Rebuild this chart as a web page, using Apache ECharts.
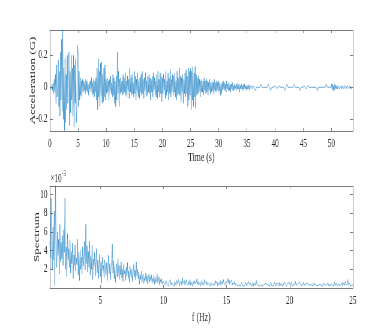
<!DOCTYPE html>
<html lang="en">
<head>
<meta charset="UTF-8">
<style>
  html, body { margin: 0; height: 100%; overflow: hidden; background: #fff; }
  /* figure looks squeezed sideways, so draw wide and squash */
  #chart { width: 650px; height: 332px; transform: scaleX(0.6); transform-origin: 0 0; }
</style>
</head>
<body>
<div id="chart"></div>
<script src="https://cdn.jsdelivr.net/npm/echarts@6.0.0/dist/echarts.min.js"></script>
<script>
// acceleration record, one sample every 0.1 s, in units of 0.01 G
var DT = 0.1;
var accelCentiG = [
  0,0,1,-1,2,-2,3,-4,5,-3,
  8,-10,14,-6,-2,17,-12,10,-18,22,
  -8,30,-15,36,-20,12,-27,18,-22,8,
  -14,20,-10,15,22,-24,10,-16,20,-8,
  12,-18,20,-25,14,-10,18,-22,-15,26,
  24,-12,10,-8,6,-5,4,-6,5,-3,
  4,-2,3,-4,5,-2,4,-3,2,-5,
  3,-1,4,-3,6,-5,3,-4,5,-6,
  4,-3,6,-8,12,-14,18,-6,10,-12,
  15,-5,16,-10,8,-9,12,-6,14,-8,
  5,-4,6,-3,4,-8,5,-2,7,-4,
  3,-6,8,-5,6,-10,4,-12,7,-8,
  22,-4,10,-12,5,-4,6,-3,4,-5,
  8,-4,6,-3,9,-5,4,-6,7,-2,
  5,-7,12,-3,6,-5,8,-4,3,-6,
  10,-4,7,-8,5,-3,9,-6,4,-7,
  6,-3,8,-5,10,-4,5,-7,6,-2,
  9,-6,4,-5,7,-3,8,-4,6,-8,
  5,-3,7,-6,9,-2,6,-5,4,-6,
  8,-7,10,-3,5,-6,9,-4,7,-9,
  6,-4,8,-2,5,-7,10,-5,4,-3,
  9,-8,6,-4,11,-6,5,-3,8,-5,
  7,-3,9,-6,4,-8,10,-5,6,-4,
  12,-5,7,-9,6,-3,8,-10,5,-4,
  9,-6,11,-4,7,-12,12,-8,10,-5,
  12,-14,10,-8,13,-12,9,-6,13,-13,
  8,-5,6,-4,7,-3,5,-6,4,-3,
  5,-3,4,-5,6,-2,4,-4,5,-3,
  4,-5,3,-2,5,-4,3,-3,4,-2,
  3,-4,5,-2,3,-3,4,-2,3,-3,
  4,-2,3,-5,2,-4,3,-2,4,-1,
  3,-2,2,-3,4,-1,2,-2,3,-2,
  2,-3,2,-1,3,-2,1,-2,2,-1,
  1,-2,2,-1,3,-1,2,-3,1,-1,
  2,-1,1,-2,2,-1,2,-1,1,-2,
  1,-1,2,-1,1,-2,1,0,2,-1,
  1,2,1,0,-1,-2,-1,0,1,1,
  0,-1,-1,0,1,2,1,0,-1,-1,
  0,1,1,0,-1,-1,0,1,2,1,
  0,-1,-2,-1,0,1,1,0,-1,0,
  1,1,0,-1,-1,0,1,2,1,0,
  -1,-1,0,1,1,0,-1,-2,-1,0,
  1,2,1,0,-1,-1,0,1,1,0,
  -1,-1,0,1,2,1,0,-1,-1,0,
  1,1,0,-1,-2,-1,0,1,1,0,
  -1,0,1,1,0,-1,-1,0,1,2,
  1,0,-1,-1,0,1,1,0,-1,-1,
  0,1,1,0,-1,-2,-1,0,1,1,
  0,-1,-1,0,1,1,0,-1,-1,0,
  1,2,1,0,-1,-1,0,1,1,0,
  2,-1,2,-2,1,-2,2,-1,1,-1,
  1,-1,1,0,1,-1,0,1,-1,0,
  1,0,-1,0,1,0,-1,0,1,0,
  0,-1,0,1,0,-1,0,0,0
];

// amplitude spectrum, from 1 Hz every 0.05 Hz, in units of 1e-3
var F0 = 1, DF = 0.05;
var spectrumE3 = [
  5.0,3.2,9.6,4.1,2.0,6.5,3.0,8.2,0.3,11.0,4.5,2.2,6.0,3.5,5.2,1.5,6.8,2.8,4.9,3.1,
  5.6,2.4,6.2,3.8,9.6,2.0,4.4,1.2,5.8,3.0,4.2,2.2,5.1,1.6,3.9,2.6,4.8,1.0,3.5,2.4,
  4.6,1.8,3.2,2.5,5.2,1.4,3.8,0.8,4.1,2.0,3.3,1.5,4.4,2.3,3.0,5.0,1.9,6.8,2.6,4.5,
  1.7,3.9,2.2,5.0,1.4,3.4,2.0,4.6,0.9,3.1,2.4,3.8,1.3,2.7,4.2,1.6,3.0,1.0,2.5,3.6,
  1.2,2.8,0.5,3.3,1.9,2.4,1.1,3.0,2.0,1.4,2.7,0.8,2.2,3.5,1.5,2.6,0.9,2.1,3.0,4.7,
  1.6,2.9,1.0,2.3,0.6,1.9,2.6,1.2,3.1,1.7,0.9,2.4,1.4,2.8,1.1,2.0,0.7,2.5,1.5,1.9,
  0.8,2.2,1.3,2.7,1.0,1.8,0.6,2.4,1.5,1.1,2.0,0.7,1.6,2.5,1.2,1.9,0.9,2.8,1.3,2.0,
  1.0,1.7,0.4,1.4,0.9,1.8,0.6,1.2,1.5,0.5,1.1,0.8,1.6,0.7,1.3,0.4,1.0,1.5,0.6,1.2,
  0.8,1.4,0.5,1.0,0.7,1.3,0.4,1.1,0.6,0.9,1.5,0.5,0.8,1.2,0.3,0.9,0.6,1.0,0.4,0.7,
  0.9,0.5,0.7,0.3,0.8,1.0,0.4,0.6,0.2,0.7,0.5,0.9,0.3,0.6,0.8,0.4,0.5,0.2,0.7,0.6,
  0.3,0.8,0.5,0.4,0.9,0.2,0.6,0.5,0.7,0.3,1.1,0.5,0.4,0.8,0.3,0.6,0.9,0.4,0.5,0.3,
  0.7,0.4,0.9,0.3,0.6,0.5,0.2,0.7,0.4,0.8,0.5,0.3,0.6,1.0,0.4,0.7,0.3,0.5,0.6,0.2,
  0.5,0.8,0.4,0.6,0.3,0.9,0.5,0.4,0.7,0.3,0.6,0.8,0.4,0.5,0.2,0.6,0.7,0.3,0.5,0.4,
  0.6,0.3,0.8,0.5,0.4,0.7,0.2,0.5,0.6,0.4,0.8,0.3,0.5,0.7,0.4,0.9,0.5,0.6,0.3,0.7,
  0.8,0.5,1.0,0.6,0.9,0.4,0.7,0.5,0.8,0.3,0.6,0.5,0.4,0.7,0.3,0.5,0.4,0.6,0.2,0.4,
  0.3,0.5,0.2,0.4,0.6,0.3,0.5,0.2,0.4,0.3,0.6,0.4,0.2,0.5,0.3,0.7,0.4,0.3,0.5,0.2,
  0.4,0.3,0.6,0.2,0.5,0.4,0.3,0.8,0.4,0.6,0.3,0.5,0.2,0.4,0.3,0.5,0.2,0.4,0.3,0.2,
  0.4,0.2,0.5,0.3,0.4,0.2,0.3,0.5,0.2,0.4,0.6,0.3,0.5,0.2,0.4,0.3,0.6,0.4,0.2,0.5,
  0.3,0.5,0.4,0.2,0.6,0.3,0.4,0.5,0.2,0.4,0.3,0.6,0.4,0.5,0.3,0.2,0.4,0.5,0.3,0.6,
  0.4,0.3,0.5,0.6,0.2,0.4,0.3,0.5,0.4,0.7,0.3,0.5,0.4,0.2,0.5,0.3,0.6,0.4,0.3,0.5,
  0.2,0.4,0.6,0.3,0.5,0.4,0.2,0.5,0.3,0.4,0.6,0.3,0.2,0.4,0.5,0.3,0.4,0.2,0.5,0.3,
  0.4,0.2,0.3,0.5,0.2,0.4,0.3,0.5,0.4,0.2,0.3,0.4,0.2,0.5,0.3,0.4,0.6,0.3,0.2,0.4,
  0.3,0.5,0.2,0.4,0.3,0.2,0.4,0.5,0.3,0.4,0.2,0.6,0.3,0.4,0.5,0.2,0.3,0.4,0.6,0.3,
  0.5,0.3,0.4,0.6,0.2,0.5,0.4,0.3,0.7,0.4,0.5,0.3,0.9,0.4,0.3,0.5,0.2,0.4,0.3,0.2,
  0.3
];

var timeTicks = [0, 5, 10, 15, 20, 25, 30, 35, 40, 45, 50];
var accelTicks = [-0.2, 0, 0.2];
var freqTicks = [5, 10, 15, 20, 25];
var specTicks = [2, 4, 6, 8, 10];

var FONT = 'Liberation Serif';
var AXIS = '#7a7a7a';
var TXT = '#262626';
var BLUE = '#0072BD';

function xAx(grid, min, max, ticks, top, name, gap) {
    return {
        gridIndex: grid, type: 'value', min: min, max: max,
        position: top ? 'top' : 'bottom',
        name: top ? '' : name, nameLocation: 'middle', nameGap: gap, nameMoveOverlap: false,
        nameTextStyle: { fontFamily: FONT, fontSize: 13, color: TXT },
        axisLine: { show: true, onZero: false, lineStyle: { color: AXIS, width: 1 } },
        axisTick: { show: true, inside: true, length: 3, customValues: ticks, lineStyle: { color: AXIS } },
        axisLabel: { show: !top, customValues: ticks, margin: 7, fontFamily: FONT, fontSize: 12, color: TXT },
        splitLine: { show: false }
    };
}

function yAx(grid, min, max, ticks, right, name, gap) {
    return {
        gridIndex: grid, type: 'value', min: min, max: max,
        position: right ? 'right' : 'left',
        name: right ? '' : name, nameLocation: 'middle', nameGap: gap, nameMoveOverlap: false,
        nameTextStyle: { fontFamily: FONT, fontSize: 13, color: TXT },
        axisLine: { show: true, onZero: false, lineStyle: { color: AXIS, width: 1 } },
        axisTick: { show: true, inside: true, length: 5, customValues: ticks, lineStyle: { color: AXIS } },
        axisLabel: { show: !right, customValues: ticks, margin: 4, fontFamily: FONT, fontSize: 12, color: TXT,
            formatter: function (v) { return String(Math.round(v * 10) / 10); } },
        splitLine: { show: false }
    };
}

var accelData = accelCentiG.map(function (v, i) { return [i * DT, v / 100]; });
var specData = spectrumE3.map(function (v, i) { return [F0 + i * DF, v]; });

var myChart = echarts.init(document.getElementById('chart'));
myChart.setOption({
    animation: false,
    grid: [
        { left: 83, top: 30, width: 505, height: 101 },
        { left: 83, top: 186, width: 505, height: 102 }
    ],
    xAxis: [
        xAx(0, 0, 53.8, timeTicks, false, 'Time (s)', 20),
        xAx(0, 0, 53.8, timeTicks, true),
        xAx(1, 1, 25, freqTicks, false, 'f (Hz)', 23),
        xAx(1, 1, 25, freqTicks, true)
    ],
    yAxis: [
        yAx(0, -0.273, 0.358, accelTicks, false, 'Acceleration (G)', 22),
        yAx(0, -0.273, 0.358, accelTicks, true),
        yAx(1, 0, 10.9, specTicks, false, 'Spectrum', 15),
        yAx(1, 0, 10.9, specTicks, true)
    ],
    graphic: [
        { type: 'text', left: 84, top: 173, style: { text: '×10', fontFamily: FONT, fontSize: 12, fill: TXT } },
        { type: 'text', left: 103, top: 170, style: { text: '-3', fontFamily: FONT, fontSize: 8, fill: TXT } }
    ],
    series: [
        {
            type: 'line', xAxisIndex: 0, yAxisIndex: 0, data: accelData,
            showSymbol: false, symbol: 'none', lineStyle: { color: BLUE, width: 0.6 }, clip: true
        },
        {
            type: 'line', xAxisIndex: 2, yAxisIndex: 2, data: specData,
            showSymbol: false, symbol: 'none', lineStyle: { color: BLUE, width: 0.6 }, clip: true
        }
    ]
});
</script>
</body>
</html>
